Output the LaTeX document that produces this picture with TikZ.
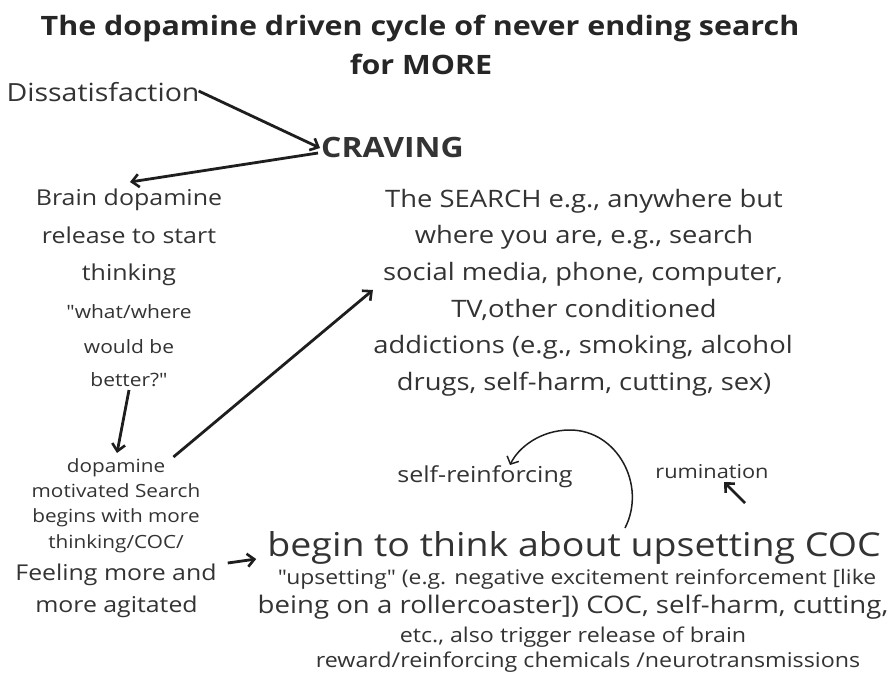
\documentclass[tikz,border=0pt]{standalone}
\usepackage{fontspec}
\setmainfont{Open Sans}[FakeStretch=1.14,Ligatures=TeXOff]
\usetikzlibrary{arrows.meta}
\definecolor{txt}{HTML}{333333}
\definecolor{ttl}{HTML}{262626}
\definecolor{arr}{HTML}{1E1E1E}
\newcommand{\fs}[1]{\fontsize{#1}{#1}\selectfont}
\begin{document}
\begin{tikzpicture}[x=1pt,y=-1pt,
  lbl/.style={inner sep=0pt,anchor=base,text=txt,font=#1},
  conn/.style={draw=arr,line width=2.8pt,-{Straight Barb[length=7pt,width=13pt,line width=2.6pt]}},
  thinconn/.style={draw=arr,line width=1.5pt,-{Straight Barb[length=6pt,width=13pt,line width=1.5pt]}}]
\useasboundingbox[fill=white] (0,0) rectangle (894,672);
% title
\node[lbl={\fs{26.7}\bfseries},text=ttl] (title1) at (420,35) {The dopamine driven cycle of never ending search};
\node[lbl={\fs{26.7}\bfseries},text=ttl] (title2) at (421,74) {for MORE};
\node[lbl=\fs{25}] (diss) at (103,101) {Dissatisfaction};
\node[lbl={\fs{28}\bfseries}] (crav) at (392.5,157) {CRAVING};
% left column
\node[lbl=\fs{21.9}] (brain1) at (129,205) {Brain dopamine};
\node[lbl=\fs{21.9}] (brain2) at (129,243) {release to start};
\node[lbl=\fs{21.9}] (brain3) at (129,280) {thinking};
\node[lbl=\fs{18.4}] (what1) at (129,318) {"what/where};
\node[lbl=\fs{18.4}] (what2) at (129,353) {would be};
\node[lbl=\fs{18.4}] (what3) at (129,386) {better?"};
\node[lbl=\fs{18.2}] (dop1) at (116,472) {dopamine};
\node[lbl=\fs{18.2}] (dop2) at (116,497) {motivated Search};
\node[lbl=\fs{18.2}] (dop3) at (116,522) {begins with more};
\node[lbl=\fs{18.2}] (dop4) at (116,548) {thinking/COC/};
\node[lbl=\fs{21.8}] (feel1) at (116,580) {Feeling more and};
\node[lbl=\fs{21.8}] (feel2) at (116.5,612) {more agitated};
% search block
\node[lbl=\fs{24}] (search1) at (584,207) {The SEARCH e.g., anywhere but};
\node[lbl=\fs{24}] (search2) at (584,243) {where you are, e.g., search};
\node[lbl=\fs{24}] (search3) at (583,280) {social media, phone, computer,};
\node[lbl=\fs{24}] (search4) at (584,317) {TV,other conditioned};
\node[lbl=\fs{24}] (search5) at (583,353) {addictions (e.g., smoking, alcohol};
\node[lbl=\fs{24}] (search6) at (584,390) {drugs, self-harm, cutting, sex)};
% lower right
\node[lbl=\fs{22}] (selfr) at (485,482) {self-reinforcing};
\node[lbl=\fs{19.1}] (rum) at (712,478) {rumination};
\node[lbl=\fs{32.9}] (begin) at (574,556) {begin to think about upsetting COC};
\node[lbl=\fs{20.1}] (ups1) at (577,584) {"upsetting" (e.g. negative excitement reinforcement [like};
\node[lbl=\fs{24.2}] (ups2) at (573,613) {being on a rollercoaster]) COC, self-harm, cutting,};
\node[lbl=\fs{20.4}] (ups3) at (573,642) {etc., also trigger release of brain};
\node[lbl=\fs{20.4}] (ups4) at (588,667) {reward/reinforcing chemicals /neurotransmissions};
% connectors
\draw[conn] ([xshift=-1pt,yshift=10pt]diss.base east) -- ([xshift=-1pt,yshift=9pt]crav.base west);
\draw[conn] ([xshift=-3pt,yshift=4pt]crav.base west) -- ([xshift=1pt,yshift=23pt]brain1.base);
\draw[conn] ([yshift=-4pt]what3.base) -- ([xshift=1pt,yshift=19pt]dop1.base);
\draw[conn] ([xshift=8pt,yshift=15pt]dop1.base east) -- ([xshift=-10pt,yshift=-10pt]search3.base west);
\draw[conn] ([xshift=11pt,yshift=17pt]feel1.base east) -- ([xshift=-11pt,yshift=-3pt]begin.base west);
\coordinate (cstart) at ([xshift=51pt,yshift=28pt]begin.base);
\draw[thinconn] (cstart) .. controls (647,485) and (617,430) .. (570,430)
  .. controls (540,430) and (518,448) .. ([xshift=25pt,yshift=17pt]selfr.base);
\coordinate (rumtail) at (745,503);
\draw[conn] (rumtail) -- ([xshift=12pt,yshift=-4pt]rum.base);
\end{tikzpicture}
\end{document}
